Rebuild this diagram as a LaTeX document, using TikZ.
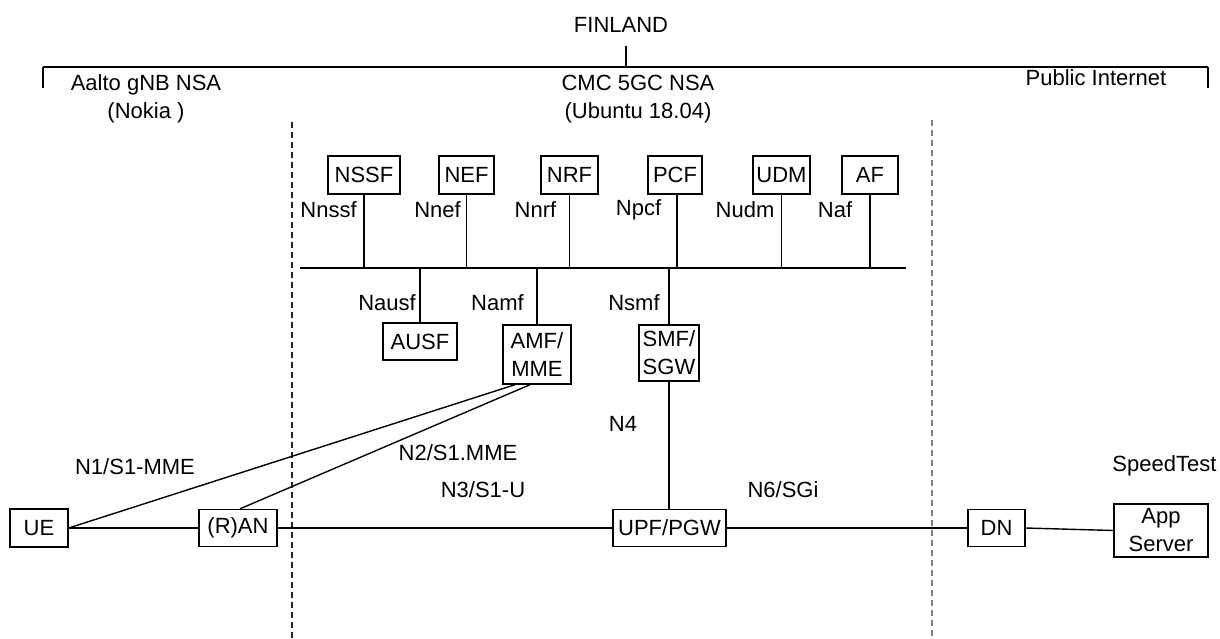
\documentclass[tikz,border=0pt]{standalone}
\usepackage{fontspec}
\setmainfont{Liberation Sans}
\usetikzlibrary{positioning}
\begin{document}
\begin{tikzpicture}[x=0.5pt, y=-0.5pt, font=\fontsize{11}{14}\selectfont,
    nf/.style={draw, line width=0.7pt, inner sep=0pt, align=center},
    link/.style={line width=0.7pt},
    zone/.style={line width=0.7pt, dash pattern=on 3pt off 2pt},
    brace/.style={line width=1.4pt}]
  \def\busY{268} \def\mainY{528}
  \useasboundingbox (0,0) rectangle (1220,638);

  \node (finland) at (621,25) {FINLAND};
  \coordinate (brL) at (43,67);
  \coordinate (brM) at (626,67);
  \coordinate (brR) at (1208,67);
  \draw[brace] (brL) -- (brR);
  \draw[brace] (brL) -- ++(0,21);
  \draw[brace] (brR) -- ++(0,21);
  \draw[brace] (brM) -- ++(0,-21);

  \node[align=center] (aalto) at (146,99) {Aalto gNB NSA\\(Nokia )};
  \node[align=center] (cmc) at (638,99) {CMC 5GC NSA\\(Ubuntu 18.04)};
  \node (public) at (1096,78) {Public Internet};

  \draw[zone, black!85] (292,122) coordinate (zoneA) -- (292,638);
  \draw[zone, gray] (932,120) coordinate (zoneB) -- (932,638);

  \node[nf, minimum width=36pt, minimum height=19pt] (nssf) at (364,175) {NSSF};
  \node[nf, minimum width=27.5pt, minimum height=19pt] (nef) at (466.5,175) {NEF};
  \node[nf, minimum width=28.5pt, minimum height=19pt] (nrf) at (569.5,175) {NRF};
  \node[nf, minimum width=27pt, minimum height=19pt] (pcf) at (675,175) {PCF};
  \node[nf, minimum width=28.5pt, minimum height=19pt] (udm) at (781.5,175) {UDM};
  \node[nf, minimum width=28pt, minimum height=19pt] (af) at (870,175) {AF};

  \coordinate (busL) at (300,\busY);
  \coordinate (busR) at (906,\busY);
  \draw[link] (busL) -- (busR);

  \node[nf, minimum width=37pt, minimum height=18.5pt] (ausf) at (420,341.5) {AUSF};
  \node[nf, minimum width=34pt, minimum height=29.5pt] (amf) at (537,354.5) {AMF/\\MME};
  \node[nf, minimum width=30pt, minimum height=28pt] (smf) at (669,353) {SMF/\\SGW};

  \foreach \f in {nssf,nef,nrf,af,udm}
    \draw[link] (\f.south) -- (\f.south |- busL);
  \draw[link] ([xshift=1pt]pcf.south) -- ([xshift=1pt]pcf.south |- busL);
  \foreach \f in {ausf,amf,smf}
    \draw[link] (\f.north) -- (\f.north |- busL);

  \node (lnssf) at (328.5,210) {Nnssf};
  \node (lnef) at (437.5,210) {Nnef};
  \node (lnrf) at (535.5,210) {Nnrf};
  \node (lpcf) at (638.5,210) {Npcf};
  \node (ludm) at (745,210) {Nudm};
  \node (laf) at (835,210) {Naf};
  \node (lausf) at (387,303) {Nausf};
  \node (lamf) at (497.5,303) {Namf};
  \node (lsmf) at (634,303) {Nsmf};

  \node[nf, minimum width=29pt, minimum height=19pt] (ue) at (39,\mainY) {UE};
  \node[nf, minimum width=39pt, minimum height=18.5pt] (ran) at (238,\mainY) {(R)AN};
  \node[nf, minimum width=56.5pt, minimum height=18.5pt] (upf) at (669.5,\mainY) {UPF/PGW};
  \node[nf, minimum width=28.5pt, minimum height=18.5pt] (dn) at (996.5,\mainY) {DN};
  \node[nf, minimum width=47pt, minimum height=26.5pt] (app) at (1161,530.5) {App\\Server};

  \draw[link] (ue.east) -- (ran.west);
  \draw[link] (ran.east) -- (upf.west);
  \draw[link] (upf.east) -- (dn.west);
  \draw[link] (dn.east) -- (app.west);
  \draw[link] (ue.east) -- ([xshift=-11pt]amf.south);
  \draw[link] ([xshift=1pt]ran.north) -- ([xshift=-3.5pt]amf.south);
  \draw[link] (smf.south) -- (smf.south |- upf.north);

  \node (ln1) at (135,467) {N1/S1-MME};
  \node (ln2) at (458,453) {N2/S1.MME};
  \node (ln3) at (483,490) {N3/S1-U};
  \node (ln4) at (623,424) {N4};
  \node (ln6) at (783,490) {N6/SGi};
  \node[anchor=west, inner xsep=0pt] (speed) at (1112,466) {SpeedTest};
\end{tikzpicture}
\end{document}
